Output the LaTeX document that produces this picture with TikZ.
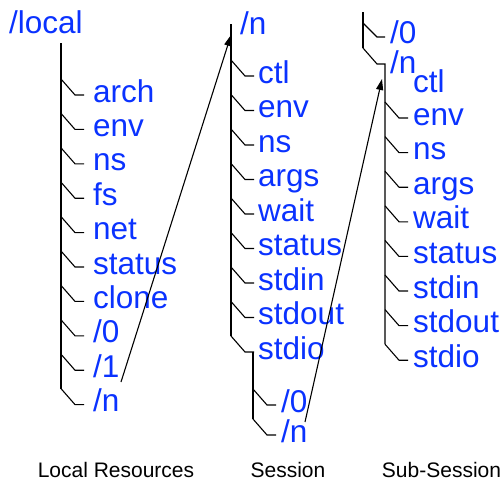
\documentclass[tikz,border=0pt]{standalone}
\usepackage{fontspec}
\setmainfont{Liberation Sans}
\usetikzlibrary{arrows.meta}
\definecolor{fblue}{RGB}{10,50,255}
\tikzset{
  tree/.style={draw=black, line width=1.1pt, line join=miter},
  lbl/.style={text=fblue, inner sep=0pt, anchor=base west, font=\fontsize{31.5}{31.5}\selectfont},
  captxt/.style={text=black, inner sep=0pt, anchor=base, font=\fontsize{21}{21}\selectfont},
  link/.style={draw=black, line width=1.1pt, -{Triangle[length=11pt,width=7pt]}}
}
% #1 x of trunk, #2 y of fork, #3 label offset, #4 node name, #5 text
\newcommand{\tbranch}[5]{%
  \draw[tree] (#1,#2) -- ++(14,16) -- ++(9,0);
  \node[lbl] (#4) at ({#1+#3},{#2+23}) {#5};}
\begin{document}
\begin{tikzpicture}[x=1pt,y=-1pt]
\useasboundingbox (0,0) rectangle (502,482);
% ---- Local resources
\node[lbl] (local) at (9,33) {/local};
\draw[tree] (61,43) -- (61,388.6);
\tbranch{61}{79}{32}{la}{arch}
\tbranch{61}{113.4}{32}{lb}{env}
\tbranch{61}{147.8}{32}{lc}{ns}
\tbranch{61}{182.2}{32}{ld}{fs}
\tbranch{61}{216.6}{32}{le}{net}
\tbranch{61}{251}{32}{lf}{status}
\tbranch{61}{285.4}{32}{lg}{clone}
\tbranch{61}{319.8}{32}{lh}{/0}
\tbranch{61}{354.2}{32}{li}{/1}
\tbranch{61}{388.6}{32}{lj}{/n}
% ---- Session
\node[lbl] (sn) at (240,34) {/n};
\draw[tree] (231,24) -- (231,336);
\tbranch{231}{60}{27}{sa}{ctl}
\tbranch{231}{94.5}{27}{sb}{env}
\tbranch{231}{129}{27}{sc}{ns}
\tbranch{231}{163.5}{27}{sd}{args}
\tbranch{231}{198}{27}{se}{wait}
\tbranch{231}{232.5}{27}{sf}{status}
\tbranch{231}{267}{27}{sg}{stdin}
\tbranch{231}{301.5}{27}{sh}{stdout}
\tbranch{231}{336}{27}{si}{stdio}
\draw[tree] (253,352) -- (253,419);
\tbranch{253}{389}{28}{sj}{/0}
\tbranch{253}{419}{28}{sk}{/n}
% ---- Sub-session
\draw[tree] (363,12) -- (363,48);
\draw[tree] (363,23) -- (377,37) -- (385,37);
\node[lbl] (u0) at (390,43) {/0};
\draw[tree] (363,48) -- (377,64) -- (385,64) -- (385,344);
\node[lbl] (un) at (390,73) {/n};
\node[lbl] (ua) at (413,92) {ctl};
\tbranch{385}{102}{28}{ub}{env}
\tbranch{385}{136.6}{28}{uc}{ns}
\tbranch{385}{171.2}{28}{ud}{args}
\tbranch{385}{205.8}{28}{ue}{wait}
\tbranch{385}{240.4}{28}{uf}{status}
\tbranch{385}{275}{28}{ug}{stdin}
\tbranch{385}{309.6}{28}{uh}{stdout}
\tbranch{385}{344.2}{28}{ui}{stdio}
% ---- links
\coordinate (a1s) at (121,382);
\coordinate (a1e) at (231,35);
\coordinate (a2s) at (305,422);
\coordinate (a2e) at (382,79);
\draw[link] (a1s) -- (a1e);
\draw[link] (a2s) -- (a2e);
% ---- captions
\node[captxt] (c1) at (116,477) {Local Resources};
\node[captxt] (c2) at (288,477) {Session};
\node[captxt] (c3) at (441.5,477) {Sub-Session};
\end{tikzpicture}
\end{document}
